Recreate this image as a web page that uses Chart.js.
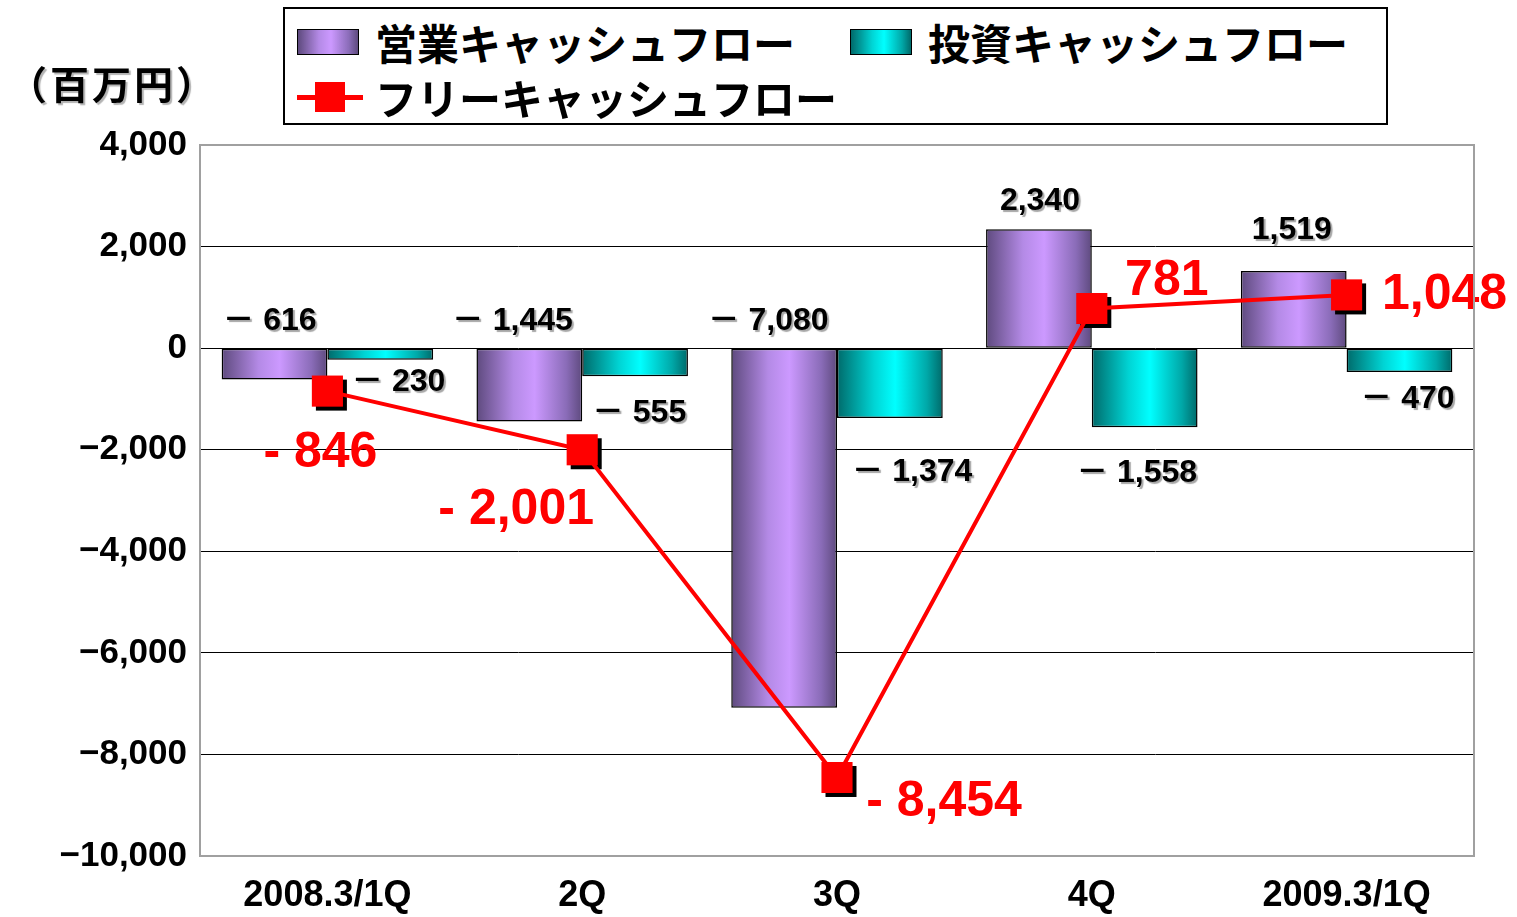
<!DOCTYPE html>
<html>
<head>
<meta charset="utf-8">
<script src="https://cdn.jsdelivr.net/npm/chart.js@4.4.1/dist/chart.umd.min.js"></script>
<style>
  html, body { margin: 0; padding: 0; background: #fff; }
  #wrap { position: relative; width: 1517px; height: 917px; }
  canvas { position: absolute; left: 0; top: 0; }
  #unit { position: absolute; left: 8px; top: 56px; font: bold 39px 'Noto Sans CJK JP', sans-serif; letter-spacing: 3px; line-height: 52px; color: #000; text-shadow: 2px 2px 1px rgba(0,0,0,0.3); }
  #legend { position: absolute; left: 283px; top: 7px; width: 1101px; height: 114px; border: 2px solid #000; background: #fff; }
  .lg-item { position: absolute; font: bold 42px 'Noto Sans CJK JP', sans-serif; line-height: 52px; color: #000; white-space: nowrap; }
  .sw { position: absolute; width: 60px; height: 24px; border: 1.5px solid #000; }
</style>
</head>
<body>
<div id="wrap">
  <canvas id="c" width="1517" height="917"></canvas>
  <div id="unit">（百万円）</div>
  <div id="legend">
    <div class="sw" style="left:12px;top:20px;background:linear-gradient(90deg,#5e4a7e,#b48ae6 35%,#cc99ff 55%,#8a6cb8 85%,#5e4a7e);"></div>
    <div class="lg-item" id="lg0" style="left:90px;top:7px;"></div>
    <div class="sw" style="left:565px;top:20px;background:linear-gradient(90deg,#006a6a,#00d4d4 35%,#00ffff 55%,#00a8a8 85%,#006a6a);"></div>
    <div class="lg-item" id="lg1" style="left:643px;top:7px;"></div>
    <div style="position:absolute;left:12px;top:86px;width:66px;height:5px;background:#ff0000;"></div>
    <div style="position:absolute;left:30px;top:73px;width:30px;height:30px;background:#ff0000;"></div>
    <div class="lg-item" id="lg2" style="left:90px;top:62px;"></div>
  </div>
</div>
<script>
// ---- data ----
const categories = ['2008.3/1Q', '2Q', '3Q', '4Q', '2009.3/1Q'];
const seriesNames = ['営業キャッシュフロー', '投資キャッシュフロー', 'フリーキャッシュフロー'];
const operatingCF = [-616, -1445, -7080, 2340, 1519];
const investingCF = [-230, -555, -1374, -1558, -470];
const freeCF = [-846, -2001, -8454, 781, 1048];
const yMin = -10000, yMax = 4000, yStep = 2000;

// ---- label layout nudges (pixels) ----
const opNudge = [[-5,-27],[-17,-27],[-16,-27],[1,-28],[-2,-41]];
const invNudge = [[18,22],[4,37],[22,54],[-8,46],[8,27]];
const freeNudge = [[-7,62],[-66,60],[107,25],[75,-27],[98,0]];

document.getElementById('lg0').textContent = seriesNames[0];
document.getElementById('lg1').textContent = seriesNames[1];
document.getElementById('lg2').textContent = seriesNames[2];

const fmt = v => Math.abs(v).toLocaleString('en-US');
const NUMFONT = "'Liberation Sans', 'Noto Sans CJK JP', sans-serif";

const gradPlugin = {
  id: 'grad',
  beforeDatasetsDraw(chart) {
    const ctx = chart.ctx;
    const stops = [
      ['#5e4a7e', '#b48ae6', '#cc99ff', '#8a6cb8', '#5e4a7e'],
      ['#006a6a', '#00d4d4', '#00ffff', '#00a8a8', '#006a6a']
    ];
    [0, 1].forEach(di => {
      const meta = chart.getDatasetMeta(di);
      meta.data.forEach(el => {
        const l = el.x - el.width / 2, r = el.x + el.width / 2;
        const g = ctx.createLinearGradient(l, 0, r, 0);
        const s = stops[di];
        g.addColorStop(0, s[0]); g.addColorStop(0.35, s[1]); g.addColorStop(0.55, s[2]);
        g.addColorStop(0.85, s[3]); g.addColorStop(1, s[4]);
        el.options = Object.assign({}, el.options, { backgroundColor: g });
      });
    });
  },
  beforeDatasetDraw(chart, args) {
    if (args.index !== 2) return;
    const ctx = chart.ctx;
    ctx.save();
    ctx.fillStyle = '#000';
    chart.getDatasetMeta(2).data.forEach(p => {
      ctx.fillRect(p.x - 15.5 + 4, p.y - 15.5 + 4, 31, 31);
    });
    ctx.restore();
  },
  afterDatasetsDraw(chart) {
    const ctx = chart.ctx;
    const ys = chart.scales.y;
    ctx.save();
    ctx.textAlign = 'center';
    ctx.textBaseline = 'middle';
    ctx.font = 'bold 32px ' + NUMFONT;
    ctx.fillStyle = '#000';
    ctx.shadowColor = 'rgba(0,0,0,0.35)';
    ctx.shadowOffsetX = 2; ctx.shadowOffsetY = 2; ctx.shadowBlur = 1;
    const lab = v => v < 0 ? '－ ' + fmt(v) : fmt(v);
    chart.getDatasetMeta(0).data.forEach((el, i) => {
      const v = operatingCF[i];
      const y = ys.getPixelForValue(Math.max(v, 0));
      ctx.fillText(lab(v), el.x + opNudge[i][0], y + opNudge[i][1]);
    });
    chart.getDatasetMeta(1).data.forEach((el, i) => {
      const v = investingCF[i];
      const y = ys.getPixelForValue(Math.min(v, 0));
      ctx.fillText(lab(v), el.x + invNudge[i][0], y + invNudge[i][1]);
    });
    ctx.shadowColor = 'rgba(0,0,0,0)';
    ctx.font = 'bold 50px ' + NUMFONT;
    ctx.fillStyle = '#ff0000';
    chart.getDatasetMeta(2).data.forEach((p, i) => {
      const v = freeCF[i];
      const t = v < 0 ? '- ' + fmt(v) : fmt(v);
      ctx.fillText(t, p.x + freeNudge[i][0], p.y + freeNudge[i][1]);
    });
    ctx.restore();
  },
  afterDraw(chart) {
    const a = chart.chartArea, ctx = chart.ctx;
    ctx.save();
    ctx.strokeStyle = '#a0a0a0';
    ctx.lineWidth = 2;
    ctx.strokeRect(a.left, a.top, a.right - a.left, a.bottom - a.top);
    ctx.restore();
  }
};

new Chart(document.getElementById('c'), {
  type: 'bar',
  data: {
    labels: categories,
    datasets: [
      { label: seriesNames[0], data: operatingCF, backgroundColor: '#cc99ff', borderColor: '#000', borderWidth: 1.5, borderSkipped: false, order: 2, categoryPercentage: 0.83, barPercentage: 1.0 },
      { label: seriesNames[1], data: investingCF, backgroundColor: '#00ffff', borderColor: '#000', borderWidth: 1.5, borderSkipped: false, order: 2, categoryPercentage: 0.83, barPercentage: 1.0 },
      { type: 'line', label: seriesNames[2], data: freeCF, borderColor: '#ff0000', borderWidth: 4, pointStyle: 'rect', pointRadius: 22, pointBackgroundColor: '#ff0000', pointBorderColor: '#ff0000', pointBorderWidth: 0, tension: 0, order: 0 }
    ]
  },
  options: {
    responsive: false,
    animation: false,
    events: [],
    layout: { padding: { left: 0, top: 145, right: 43, bottom: 0 } },
    plugins: { legend: { display: false }, tooltip: { enabled: false } },
    scales: {
      x: {
        grid: { display: false },
        border: { display: false },
        ticks: { color: '#000', font: { family: NUMFONT, size: 36, weight: 'bold' }, padding: 10, maxRotation: 0, autoSkip: false },
        afterFit(s) { s.height = 61; }
      },
      y: {
        min: yMin, max: yMax,
        ticks: { stepSize: yStep, color: '#000', font: { family: NUMFONT, size: 35, weight: 'bold' }, padding: 13,
          callback: v => v < 0 ? '−' + fmt(v) : fmt(v) },
        grid: { drawTicks: false, lineWidth: 1, color: c => (c.tick && (c.tick.value === yMin || c.tick.value === yMax)) ? 'rgba(0,0,0,0)' : '#000' },
        border: { display: false },
        afterFit(s) { s.width = 200; }
      }
    }
  },
  plugins: [gradPlugin]
});
</script>
</body>
</html>
